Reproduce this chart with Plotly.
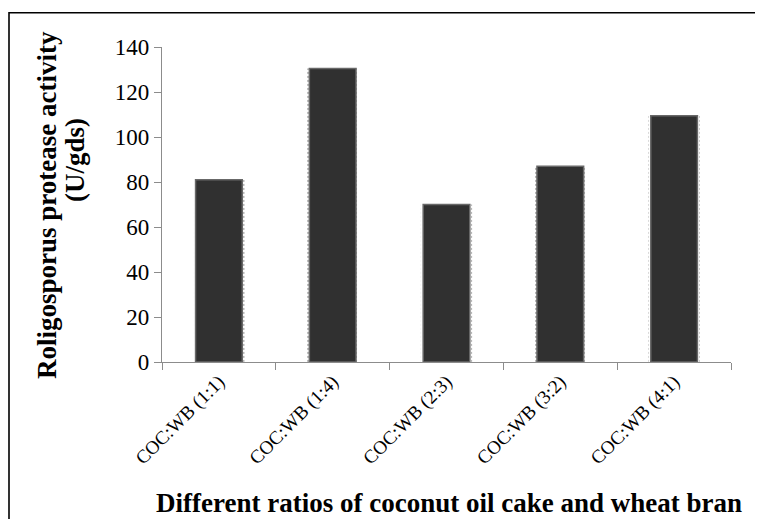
import plotly.graph_objects as go

categories = ["COC:WB (1:1)", "COC:WB (1:4)", "COC:WB (2:3)", "COC:WB (3:2)", "COC:WB (4:1)"]
activity = [81, 130.5, 70, 87, 109.5]

# figure-pixel geometry (page has an 8px body margin)
W, H = 747, 511
L, R, T, B = 154, 24, 39, 157
PW, PH = W - L - R, H - T - B


def px(fx):
    return (fx - L) / PW


def py(fy):
    return (H - B - fy) / PH


fig = go.Figure()
# dotted "shadow" edge behind each bar
fig.add_trace(go.Bar(
    x=categories, y=activity, width=0.45,
    marker=dict(color="white", line=dict(width=0),
                pattern=dict(shape=".", size=4, solidity=0.25,
                             fgcolor="#6a6a6a", bgcolor="white")),
    showlegend=False, hoverinfo="skip",
))
fig.add_trace(go.Bar(
    x=categories, y=activity, width=0.41,
    marker=dict(color="#303030", line=dict(color="#686868", width=1.5)),
    showlegend=False,
))

fig.update_layout(
    width=W, height=H,
    margin=dict(l=L, r=R, t=T, b=B),
    paper_bgcolor="white", plot_bgcolor="white",
    font=dict(family="Liberation Serif", color="black"),
    barmode="overlay",
    xaxis=dict(
        showline=True, linecolor="#8c8c8c", linewidth=1.2,
        ticks="outside", tickson="boundaries", ticklen=7, tickcolor="#8c8c8c",
        tickangle=-45, tickfont=dict(size=19, family="Liberation Serif"),
        showgrid=False,
    ),
    yaxis=dict(
        range=[0, 140], dtick=20,
        showline=True, linecolor="#8c8c8c", linewidth=1.2,
        ticks="outside", ticklen=7, tickcolor="#8c8c8c",
        tickfont=dict(size=23, family="Liberation Serif"),
        showgrid=False, zeroline=False,
    ),
)

fig.add_annotation(text="<b>Roligosporus protease activity</b>", xref="paper", yref="paper",
                   x=px(39), y=py(197), xanchor="center", yanchor="middle", textangle=-90,
                   showarrow=False, font=dict(size=27, family="Liberation Serif"))
fig.add_annotation(text="<b>(U/gds)</b>", xref="paper", yref="paper",
                   x=px(67), y=py(152), xanchor="center", yanchor="middle", textangle=-90,
                   showarrow=False, font=dict(size=27, family="Liberation Serif"))
fig.add_annotation(text="<b>Different ratios of coconut oil cake and wheat bran</b>",
                   xref="paper", yref="paper", x=px(441), y=py(495),
                   xanchor="center", yanchor="middle", showarrow=False,
                   font=dict(size=27, family="Liberation Serif"))

fig.add_shape(type="rect", xref="paper", yref="paper",
              x0=px(1), x1=px(800), y0=py(560), y1=py(4.7),
              line=dict(color="black", width=1.6), layer="below")

fig.write_html("out.html")
